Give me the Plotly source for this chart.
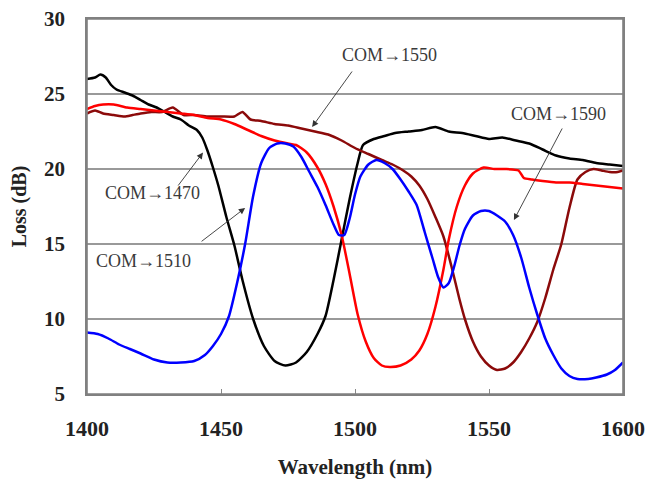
import plotly.graph_objects as go

# ---- data ----
black_x = [1400,1403,1405,1407,1409,1411,1414,1417,1420,1423,1426,1429,1432,1435,1438,1441,1443,1445,1447,1449,1452,1455,1458,1462,1466,1470,1474,1478,1482,1486,1489,1492,1495,1498,1501,1503,1507,1511,1515,1520,1525,1530,1535,1540,1545,1550,1555,1560,1565,1570,1575,1580,1585,1590,1595,1600]
black_y = [26.0,26.1,26.3,26.1,25.6,25.3,25.1,24.9,24.6,24.3,24.1,23.8,23.5,23.3,22.9,22.6,22.1,21.2,20.1,18.9,16.8,14.9,12.6,10.0,8.2,7.2,6.9,7.1,7.8,9.0,10.2,12.6,15.3,18.0,20.4,21.6,22.0,22.2,22.4,22.5,22.6,22.8,22.5,22.4,22.2,22.0,22.1,21.9,21.7,21.3,20.9,20.7,20.6,20.4,20.3,20.2]

red_x = [1400,1403,1406,1410,1415,1420,1425,1430,1435,1440,1445,1450,1455,1460,1465,1470,1475,1478,1482,1486,1489,1492,1495,1498,1501,1504,1507,1510,1513,1517,1521,1524,1527,1530,1533,1535,1538,1541,1544,1548,1552,1556,1561,1563,1566,1570,1575,1580,1585,1590,1595,1600]
red_y = [24.0,24.2,24.3,24.3,24.1,24.0,23.9,23.8,23.7,23.6,23.4,23.3,23.0,22.6,22.2,21.9,21.7,21.6,21.1,20.1,19.0,17.5,15.6,13.0,10.3,8.5,7.4,6.9,6.8,6.9,7.3,7.9,9.0,10.8,13.3,15.3,17.5,18.9,19.7,20.1,20.0,20.0,19.9,19.4,19.3,19.2,19.1,19.1,19.0,18.9,18.8,18.7]

maroon_x = [1400,1403,1406,1410,1414,1417,1420,1424,1428,1432,1436,1440,1445,1450,1455,1458,1461,1465,1470,1475,1480,1485,1490,1495,1500,1505,1510,1514,1518,1521,1524,1527,1530,1533,1536,1539,1541,1544,1547,1550,1553,1556,1559,1562,1565,1568,1571,1574,1577,1580,1583,1586,1589,1592,1595,1598,1600]
maroon_y = [23.7,23.9,23.7,23.6,23.5,23.6,23.7,23.8,23.8,24.1,23.6,23.6,23.5,23.5,23.5,23.8,23.3,23.2,23.0,22.9,22.7,22.5,22.3,21.9,21.4,21.0,20.6,20.3,19.9,19.5,18.9,18.0,16.8,15.5,13.5,11.3,10.0,8.5,7.5,6.9,6.6,6.7,7.1,7.8,8.7,9.8,11.4,13.3,15.0,17.4,19.3,19.8,20.0,19.9,19.8,19.8,19.9]

blue_x = [1400,1404,1408,1412,1416,1420,1425,1430,1435,1440,1444,1447,1450,1453,1456,1459,1462,1465,1468,1471,1474,1477,1480,1483,1486,1489,1492,1494,1496,1498,1500,1502,1505,1508,1511,1514,1517,1520,1523,1526,1529,1531,1533,1535,1537,1539,1541,1544,1547,1550,1553,1556,1559,1562,1565,1568,1571,1574,1577,1580,1583,1587,1590,1594,1597,1600]
blue_y = [9.1,9.0,8.7,8.3,8.0,7.7,7.3,7.1,7.1,7.2,7.6,8.2,9.0,10.2,12.4,15.0,18.2,20.4,21.4,21.7,21.7,21.5,20.8,19.8,18.8,17.6,16.3,15.6,15.6,16.7,18.3,19.5,20.3,20.6,20.4,20.0,19.3,18.5,17.6,15.8,14.0,12.8,12.1,12.4,13.5,14.9,16.0,16.9,17.2,17.2,16.9,16.5,15.6,14.1,12.1,10.3,8.7,7.6,6.7,6.2,6.0,6.0,6.1,6.3,6.6,7.1]

x_ticks = [1400, 1450, 1500, 1550, 1600]
y_ticks = [5, 10, 15, 20, 25, 30]

labels = ["COM→1470", "COM→1510", "COM→1550", "COM→1590"]
label_pos = [(1424.3, 18.4), (1420.9, 13.9), (1512.7, 27.6), (1576.0, 23.7)]
arrow_tail = [(1433.6, 18.8), (1442.2, 15.1), (1499.3, 26.6), (1577.6, 22.8)]
arrow_tip = [(1443.3, 21.1), (1459.0, 17.4), (1484.0, 22.8), (1559.3, 16.6)]

series = [
    (black_x, black_y, "#000000", "COM→1470"),
    (red_x, red_y, "#ff0000", "COM→1510"),
    (maroon_x, maroon_y, "#8b0a0a", "COM→1550"),
    (blue_x, blue_y, "#0000ff", "COM→1590"),
]

fig = go.Figure()
for idx in [0, 2, 1, 3]:
    xs, ys, col, name = series[idx]
    fig.add_trace(go.Scatter(x=xs, y=ys, mode="lines", name=name,
                             line=dict(color=col, width=2.5, shape="spline", smoothing=0.6),
                             showlegend=False, cliponaxis=False))

annots = []
for txt, (tx, ty) in zip(labels, label_pos):
    annots.append(dict(x=tx, y=ty, xref="x", yref="y", text=txt, showarrow=False,
                       font=dict(family="Liberation Serif", size=18, color="#3a3a3a")))
for (ax_, ay_), (hx, hy) in zip(arrow_tail, arrow_tip):
    annots.append(dict(x=hx, y=hy, xref="x", yref="y", ax=ax_, ay=ay_, axref="x", ayref="y",
                       text="", showarrow=True, arrowhead=2, arrowsize=1.4, arrowwidth=0.9,
                       arrowcolor="#333333", standoff=0, startstandoff=0))

fig.update_layout(
    width=648, height=473,
    margin=dict(l=79, r=33, t=11, b=87),
    paper_bgcolor="white", plot_bgcolor="white",
    font=dict(family="Liberation Serif", color="#222222"),
    annotations=annots,
    shapes=[dict(type="rect", xref="paper", yref="paper", x0=0, x1=1, y0=0, y1=1,
                 line=dict(color="#808080", width=1.6), layer="above")],
    xaxis=dict(range=[1400, 1600], tickvals=x_ticks, ticks="inside", ticklen=5,
               tickcolor="#888888", showgrid=False, showline=True, linecolor="#808080",
               linewidth=1.6, mirror=True, zeroline=False, automargin=False,
               ticklabeloverflow="allow",
               tickfont=dict(family="Liberation Serif", size=22, color="#222222", weight="bold"),
               ticklabelstandoff=14,
               title=dict(text="<b>Wavelength (nm)</b>", standoff=19,
                          font=dict(family="Liberation Serif", size=21, color="#222222"))),
    yaxis=dict(range=[5, 30], tickvals=y_ticks, ticks="", showgrid=True,
               gridcolor="#999999", gridwidth=1.5, showline=True, linecolor="#808080",
               linewidth=1.6, mirror=True, zeroline=False, automargin=False,
               ticklabeloverflow="allow",
               tickfont=dict(family="Liberation Serif", size=21, color="#222222", weight="bold"),
               ticklabelstandoff=16,
               title=dict(text="<b>Loss (dB)</b>", standoff=12,
                          font=dict(family="Liberation Serif", size=20, color="#222222"))),
)

fig.write_html("out.html")
